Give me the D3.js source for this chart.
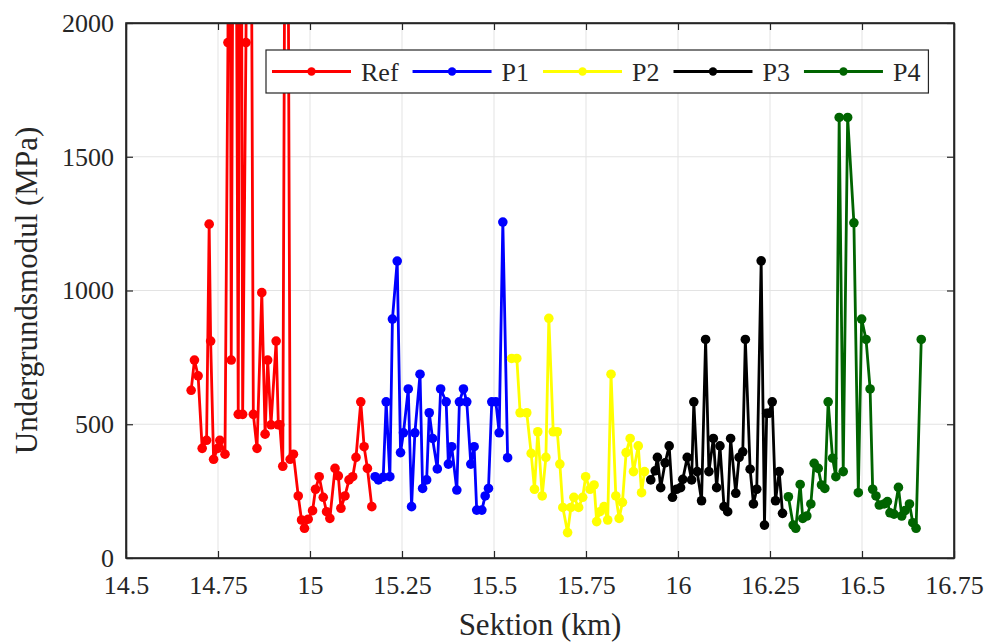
<!DOCTYPE html>
<html>
<head>
<meta charset="utf-8">
<script src="https://cdn.jsdelivr.net/npm/d3@7"></script>
<style>
  body { margin: 0; background: #ffffff; }
  svg text { font-family: 'Liberation Serif', 'Times New Roman', Times, 'DejaVu Serif', serif; }
</style>
</head>
<body>
<svg id="chart" width="994" height="642"></svg>
<script>
// Data (km, MPa). Values above 2000 run off the top.
const refX = [14.677, 14.686, 14.696, 14.707, 14.719, 14.726, 14.730, 14.738, 14.749, 14.755,
  14.769, 14.777, 14.781, 14.786, 14.795, 14.805, 14.811, 14.817, 14.826, 14.836,
  14.846, 14.856, 14.869, 14.878, 14.885, 14.894, 14.908, 14.914, 14.918, 14.926,
  14.936, 14.946, 14.955, 14.968, 14.977, 14.985, 14.995, 15.007, 15.015, 15.025,
  15.036, 15.045, 15.054, 15.068, 15.077, 15.084, 15.095, 15.106, 15.116, 15.125,
  15.138, 15.147, 15.156, 15.168];
const refY = [627, 740, 681, 410, 440, 1248, 811, 369, 410, 440,
  388, 1927, 4000, 740, 4000, 537, 4000, 537, 1927, 4000,
  537, 410, 992, 463, 740, 498, 811, 498, 498, 343,
  4000, 369, 388, 232, 142, 111, 145, 177, 257, 304,
  227, 173, 148, 335, 307, 186, 232, 292, 304, 376,
  584, 416, 335, 192];

const p1X = [15.177, 15.186, 15.199, 15.207, 15.217, 15.224, 15.237, 15.246, 15.254, 15.267,
  15.276, 15.285, 15.299, 15.306, 15.317, 15.324, 15.333, 15.346, 15.355, 15.370,
  15.376, 15.385, 15.399, 15.406, 15.417, 15.426, 15.437, 15.446, 15.453, 15.467,
  15.476, 15.485, 15.494, 15.505, 15.514, 15.524, 15.537];
const p1Y = [304, 292, 302, 584, 304, 893, 1110, 394, 468, 632,
  192, 468, 687, 260, 292, 543, 447, 333, 632, 584,
  351, 416, 254, 584, 632, 584, 351, 416, 179, 179,
  232, 260, 584, 584, 468, 1256, 375];

const p2X = [15.548, 15.562, 15.571, 15.589, 15.601, 15.610, 15.619, 15.631, 15.641, 15.649,
  15.661, 15.672, 15.679, 15.687, 15.700, 15.709, 15.717, 15.730, 15.741, 15.749,
  15.761, 15.772, 15.779, 15.788, 15.799, 15.809, 15.818, 15.831, 15.840, 15.849,
  15.859, 15.870, 15.879, 15.892, 15.901, 15.909];
const p2Y = [746, 746, 543, 543, 391, 257, 472, 232, 376, 896,
  472, 472, 351, 189, 95, 189, 227, 189, 227, 304,
  257, 273, 136, 173, 192, 142, 687, 232, 148, 208,
  394, 447, 323, 419, 244, 323];

const p3X = [15.926, 15.938, 15.944, 15.953, 15.965, 15.976, 15.985, 15.996, 16.007, 16.013,
  16.025, 16.037, 16.043, 16.052, 16.064, 16.075, 16.084, 16.096, 16.105, 16.114,
  16.125, 16.135, 16.143, 16.157, 16.166, 16.176, 16.183, 16.196, 16.205, 16.214,
  16.226, 16.235, 16.241, 16.247, 16.256, 16.265, 16.275, 16.284];
const p3Y = [292, 326, 376, 263, 356, 419, 227, 257, 263, 294,
  376, 292, 584, 323, 214, 817, 323, 447, 263, 419,
  192, 173, 447, 242, 376, 397, 817, 332, 202, 257,
  1111, 123, 541, 541, 584, 214, 323, 167];

const p4X = [16.300, 16.313, 16.320, 16.332, 16.339, 16.350, 16.361, 16.370, 16.381, 16.390,
  16.399, 16.408, 16.420, 16.429, 16.438, 16.449, 16.461, 16.478, 16.490, 16.499,
  16.511, 16.522, 16.529, 16.538, 16.547, 16.560, 16.569, 16.576, 16.587, 16.599,
  16.608, 16.617, 16.629, 16.638, 16.647, 16.661];
const p4Y = [229, 123, 111, 275, 148, 157, 202, 354, 335, 273,
  260, 584, 373, 304, 1647, 323, 1647, 1253, 244, 893,
  817, 632, 257, 232, 198, 202, 211, 169, 164, 264,
  157, 177, 202, 132, 111, 817];

const seriesNames = ['Ref', 'P1', 'P2', 'P3', 'P4'];
const seriesColors = ['#ff0000', '#0000ff', '#ffff00', '#000000', '#006400'];
const xTicks = [14.5, 14.75, 15, 15.25, 15.5, 15.75, 16, 16.25, 16.5, 16.75];
const yTicks = [0, 500, 1000, 1500, 2000];

const seriesData = [
  { name: seriesNames[0], color: seriesColors[0], xs: refX, ys: refY },
  { name: seriesNames[1], color: seriesColors[1], xs: p1X, ys: p1Y },
  { name: seriesNames[2], color: seriesColors[2], xs: p2X, ys: p2Y },
  { name: seriesNames[3], color: seriesColors[3], xs: p3X, ys: p3Y },
  { name: seriesNames[4], color: seriesColors[4], xs: p4X, ys: p4Y }
].map(s => ({ name: s.name, color: s.color, points: s.xs.map((x, i) => ({ x, y: s.ys[i] })) }));

const svg = d3.select('#chart');
const margin = { top: 23, right: 40, bottom: 84, left: 126 };
const width = 994 - margin.left - margin.right;
const height = 642 - margin.top - margin.bottom;
const axisColor = '#262626';
const serif = "'Liberation Serif', 'Times New Roman', Times, 'DejaVu Serif', serif";

const g = svg.append('g').attr('transform', `translate(${margin.left},${margin.top})`);

const x = d3.scaleLinear().domain([14.5, 16.75]).range([0, width]);
const y = d3.scaleLinear().domain([0, 2000]).range([height, 0]);

// Grid
g.append('g')
  .selectAll('line')
  .data(xTicks)
  .enter()
  .append('line')
  .attr('x1', d => x(d)).attr('x2', d => x(d))
  .attr('y1', 0).attr('y2', height)
  .attr('stroke', '#e3e3e3').attr('stroke-width', 1);
g.append('g')
  .selectAll('line')
  .data(yTicks)
  .enter()
  .append('line')
  .attr('x1', 0).attr('x2', width)
  .attr('y1', d => y(d)).attr('y2', d => y(d))
  .attr('stroke', '#e3e3e3').attr('stroke-width', 1);

// Clip to the axes box
svg.append('defs').append('clipPath').attr('id', 'plotClip')
  .append('rect').attr('x', 0).attr('y', 0).attr('width', width).attr('height', height);

const plot = g.append('g').attr('clip-path', 'url(#plotClip)');
const line = d3.line().x(d => x(d.x)).y(d => y(d.y));

seriesData.forEach(s => {
  plot.append('path')
    .datum(s.points)
    .attr('d', line)
    .attr('fill', 'none')
    .attr('stroke', s.color)
    .attr('stroke-width', 2.8)
    .attr('stroke-linejoin', 'round');
  plot.selectAll(null)
    .data(s.points)
    .enter()
    .append('circle')
    .attr('cx', d => x(d.x))
    .attr('cy', d => y(d.y))
    .attr('r', 4.8)
    .attr('fill', s.color);
});

// Axes
const fmt = d => String(d);
g.append('g')
  .attr('transform', `translate(0,${height})`)
  .call(d3.axisBottom(x).tickValues(xTicks).tickFormat(fmt).tickSizeInner(-7).tickSizeOuter(0).tickPadding(18));
g.append('g')
  .call(d3.axisLeft(y).tickValues(yTicks).tickFormat(fmt).tickSizeInner(-7).tickSizeOuter(0).tickPadding(12));
g.append('g')
  .call(d3.axisTop(x).tickValues(xTicks).tickFormat('').tickSizeInner(-7).tickSizeOuter(0));
g.append('g')
  .attr('transform', `translate(${width},0)`)
  .call(d3.axisRight(y).tickValues(yTicks).tickFormat('').tickSizeInner(-7).tickSizeOuter(0));

g.selectAll('g[font-family]').attr('font-family', serif);
g.selectAll('.domain').attr('stroke', axisColor).attr('stroke-width', 1.6);
g.selectAll('.tick line').attr('stroke', axisColor).attr('stroke-width', 1.2);
g.selectAll('.tick text')
  .attr('font-family', serif)
  .attr('font-size', 26)
  .attr('fill', axisColor);

g.append('rect')
  .attr('width', width).attr('height', height)
  .attr('fill', 'none').attr('stroke', axisColor).attr('stroke-width', 1.6);

// Axis labels
g.append('text')
  .attr('x', width / 2)
  .attr('y', height + 77)
  .attr('text-anchor', 'middle')
  .attr('font-family', serif)
  .attr('font-size', 31)
  .attr('fill', axisColor)
  .text('Sektion (km)');

g.append('text')
  .attr('transform', 'rotate(-90)')
  .attr('x', -height / 2)
  .attr('y', -89)
  .attr('text-anchor', 'middle')
  .attr('font-family', serif)
  .attr('font-size', 31)
  .attr('fill', axisColor)
  .text('Undergrundsmodul (MPa)');

// Legend
const legend = svg.append('g');
const legendBox = legend.append('rect')
  .attr('y', 50).attr('height', 43)
  .attr('fill', '#ffffff').attr('stroke', axisColor).attr('stroke-width', 1.2);

let lx = 272;
const ly = 71.5;
seriesData.forEach(s => {
  legend.append('line')
    .attr('x1', lx).attr('x2', lx + 79)
    .attr('y1', ly).attr('y2', ly)
    .attr('stroke', s.color).attr('stroke-width', 2.8);
  legend.append('circle')
    .attr('cx', lx + 39.5).attr('cy', ly).attr('r', 4.2)
    .attr('fill', s.color);
  const t = legend.append('text')
    .attr('x', lx + 89)
    .attr('y', ly + 9)
    .attr('font-family', serif)
    .attr('font-size', 26)
    .attr('fill', axisColor)
    .text(s.name);
  lx += 89 + t.node().getComputedTextLength() + 14;
});
legendBox.attr('x', 266).attr('width', lx - 266 - 6);
</script>
</body>
</html>
